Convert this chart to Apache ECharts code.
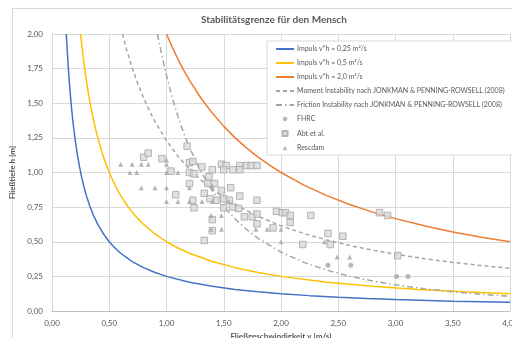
<!DOCTYPE html>
<html>
<head>
<meta charset="utf-8">
<script src="https://cdn.jsdelivr.net/npm/echarts@6/dist/echarts.min.js"></script>
<style>
  html, body { margin: 0; padding: 0; background: #fff; overflow: hidden; }
  #frame { position: absolute; left: 12px; top: 8px; width: 600px; height: 400px;
           border-left: 1px solid #d9d9d9; border-top: 1px solid #d9d9d9; }
  #chart { position: absolute; left: 0; top: 0; width: 512px; height: 338px; }
</style>
</head>
<body>
<div id="frame"></div>
<div id="chart"></div>
<script>
// Impuls-Linien (v*h = konst.)
const impuls025V = [0.125, 0.13, 0.14, 0.15, 0.16, 0.17, 0.18, 0.19, 0.2, 0.22, 0.24, 0.26, 0.28, 0.3, 0.33, 0.36,
  0.4, 0.45, 0.5, 0.55, 0.6, 0.7, 0.8, 0.9, 1.0, 1.2, 1.4, 1.6, 1.8, 2.0, 2.25, 2.5, 2.75, 3.0, 3.5, 4.0];
const impuls025H = [2.0, 1.923, 1.786, 1.667, 1.563, 1.471, 1.389, 1.316, 1.25, 1.136, 1.042, 0.962, 0.893, 0.833, 0.758, 0.694,
  0.625, 0.556, 0.5, 0.455, 0.417, 0.357, 0.313, 0.278, 0.25, 0.208, 0.179, 0.156, 0.139, 0.125, 0.111, 0.1, 0.091, 0.083, 0.071, 0.0625];

const impuls05V = [0.25, 0.26, 0.28, 0.3, 0.32, 0.34, 0.36, 0.38, 0.4, 0.44, 0.48, 0.52, 0.56, 0.6, 0.66, 0.72,
  0.8, 0.9, 1.0, 1.1, 1.2, 1.4, 1.6, 1.8, 2.0, 2.4, 2.8, 3.2, 3.6, 4.0];
const impuls05H = [2.0, 1.923, 1.786, 1.667, 1.563, 1.471, 1.389, 1.316, 1.25, 1.136, 1.042, 0.962, 0.893, 0.833, 0.758, 0.694,
  0.625, 0.556, 0.5, 0.455, 0.417, 0.357, 0.313, 0.278, 0.25, 0.208, 0.179, 0.156, 0.139, 0.125];

const impuls2V = [1.0, 1.05, 1.1, 1.15, 1.2, 1.3, 1.4, 1.5, 1.6, 1.7, 1.8, 1.9, 2.0, 2.2, 2.4, 2.6, 2.8, 3.0, 3.25, 3.5, 3.75, 4.0];
const impuls2H = [2.0, 1.905, 1.818, 1.739, 1.667, 1.538, 1.429, 1.333, 1.25, 1.176, 1.111, 1.053, 1.0, 0.909, 0.833, 0.769, 0.714, 0.667, 0.615, 0.571, 0.533, 0.5];

// Jonkman & Penning-Rowsell (2008)
const momentV = [0.615, 0.65, 0.7, 0.75, 0.8, 0.85, 0.9, 1.0, 1.1, 1.2, 1.3, 1.4, 1.5, 1.6, 1.8, 2.0, 2.2, 2.4, 2.6, 2.8, 3.0, 3.25, 3.5, 3.75, 4.0];
const momentH = [2.0, 1.892, 1.757, 1.64, 1.538, 1.447, 1.367, 1.23, 1.118, 1.025, 0.946, 0.879, 0.82, 0.769, 0.683, 0.615, 0.559, 0.513, 0.473, 0.439, 0.41, 0.378, 0.351, 0.328, 0.308];

const frictionV = [0.92, 0.95, 1.0, 1.05, 1.1, 1.15, 1.2, 1.3, 1.4, 1.5, 1.6, 1.7, 1.8, 2.0, 2.2, 2.4, 2.6, 2.8, 3.0, 3.25, 3.5, 3.75, 4.0];
const frictionH = [2.0, 1.884, 1.70, 1.542, 1.405, 1.285, 1.181, 1.006, 0.867, 0.756, 0.664, 0.588, 0.525, 0.425, 0.351, 0.295, 0.251, 0.217, 0.189, 0.161, 0.139, 0.121, 0.106];

// Versuchsdaten
const fhrcV = [2.41, 2.61, 3.01, 3.11];
const fhrcH = [0.33, 0.33, 0.25, 0.25];

const abtV = [0.80, 0.84, 0.96, 1.04, 1.18, 1.20, 1.23, 1.20, 1.24, 1.31, 1.40, 1.37, 1.48, 1.52, 1.50, 1.58,
  1.64, 1.64, 1.70, 1.74, 1.79, 1.20, 1.36, 1.42, 1.33, 1.48, 1.56, 1.64, 1.23, 1.38, 1.44, 1.50, 1.55,
  1.24, 1.50, 1.58, 1.63, 1.79, 1.40, 1.68, 1.75, 1.79, 1.79, 1.93, 1.40, 1.33, 1.96, 2.01, 2.04, 2.08,
  2.08, 2.26, 2.19, 2.41, 2.43, 2.54, 2.86, 2.93, 3.02, 1.08];
const abtH = [1.11, 1.14, 1.10, 1.01, 1.19, 1.07, 1.08, 1.00, 0.99, 1.04, 1.02, 0.97, 1.06, 1.05, 1.02, 1.02,
  1.05, 1.02, 1.05, 1.05, 1.05, 0.92, 0.92, 0.92, 0.85, 0.87, 0.89, 0.83, 0.80, 0.81, 0.80, 0.81, 0.80,
  0.745, 0.745, 0.75, 0.74, 0.80, 0.66, 0.68, 0.68, 0.70, 0.63, 0.60, 0.58, 0.51, 0.72, 0.71, 0.71, 0.69,
  0.64, 0.69, 0.48, 0.56, 0.48, 0.54, 0.71, 0.69, 0.40, 0.84];

const rescdamV = [0.60, 0.70, 0.78, 0.84, 1.00, 1.00, 0.68, 0.74, 1.00, 1.10, 0.78, 0.90, 1.00, 1.20, 1.40,
  1.00, 1.10, 1.20, 1.31, 1.40, 1.54, 1.39, 1.48, 1.39, 1.48, 1.78, 1.88, 2.00, 2.00, 2.38, 2.49, 2.60];
const rescdamH = [1.06, 1.06, 1.06, 1.06, 1.09, 1.06, 1.00, 1.00, 1.00, 1.00, 0.89, 0.89, 0.89, 0.89, 0.90,
  0.79, 0.79, 0.79, 0.79, 0.79, 0.79, 0.69, 0.69, 0.59, 0.59, 0.59, 0.59, 0.59, 0.50, 0.50, 0.39, 0.39];

const xTicks = { min: 0, max: 4, interval: 0.5 };
const yTicks = { min: 0, max: 2, interval: 0.25 };

function pairs(xs, ys) {
  return xs.map(function (x, i) { return [x, ys[i]]; });
}
function comma(v) {
  return v.toFixed(2).replace('.', ',');
}

const font = 'Lato, "Open Sans", sans-serif';
const textGrey = '#595959';

// kleine Legendensymbole: unsichtbare M-Punkte spannen die 18x9-Box auf
const iconRect = 'path://M0,0M18,9M6.5,2h5v5h-5z';
const iconTri = 'path://M0,0M18,9M9,2.2L11.3,6.8L6.7,6.8z';
const iconDot = 'path://M0,0M18,9M11.3,4.5A2.3,2.3,0,1,1,6.7,4.5A2.3,2.3,0,1,1,11.3,4.5z';
// Linien in der Legende ohne Punkt
const noMarker = { color: 'rgba(0,0,0,0)', borderWidth: 0, opacity: 0 };

const chart = echarts.init(document.getElementById('chart'));

function lineSeries(name, xs, ys, color, type) {
  return {
    name: name,
    type: 'line',
    data: pairs(xs, ys),
    symbol: 'none',
    lineStyle: { color: color, width: 1.5, type: type || 'solid' },
    itemStyle: { color: color },
    emphasis: { disabled: true },
    z: 2
  };
}

chart.setOption({
  animation: false,
  title: {
    text: 'Stabilitätsgrenze für den Mensch',
    left: 196,
    top: 10,
    textStyle: { fontFamily: font, fontSize: 10, fontWeight: 'bold', color: textGrey }
  },
  grid: { left: 52, top: 34, right: 2, bottom: 27, containLabel: false, outerBoundsMode: 'none' },
  legend: {
    orient: 'vertical',
    left: 267,
    top: 41,
    width: 240,
    padding: [3, 8, 2, 8],
    itemGap: 4,
    itemWidth: 18,
    itemHeight: 9,
    backgroundColor: '#fff',
    borderColor: '#d9d9d9',
    borderWidth: 1,
    textStyle: { fontFamily: font, fontSize: 7, color: textGrey, lineHeight: 10, padding: [0, 0, 0, -2] },
    data: [
      { name: 'Impuls v*h = 0,25 m²/s', itemStyle: noMarker },
      { name: 'Impuls v*h = 0,5 m²/s', itemStyle: noMarker },
      { name: 'Impuls v*h = 2,0 m²/s', itemStyle: noMarker },
      { name: 'Moment Instability nach JONKMAN & PENNING-ROWSELL (2008)', itemStyle: noMarker },
      { name: 'Friction Instability nach JONKMAN & PENNING-ROWSELL (2008)', itemStyle: noMarker },
      { name: 'FHRC', icon: iconDot },
      { name: 'Abt et al.', icon: iconRect },
      { name: 'Rescdam', icon: iconTri }
    ]
  },
  xAxis: {
    type: 'value',
    min: xTicks.min, max: xTicks.max, interval: xTicks.interval,
    name: 'Fließgeschwindigkeit v [m/s]',
    nameLocation: 'middle',
    nameGap: 21,
    nameTextStyle: { fontFamily: font, fontSize: 8, fontWeight: 'bold', color: textGrey },
    axisLine: { lineStyle: { color: '#bfbfbf' } },
    axisTick: { show: false },
    splitLine: { lineStyle: { color: '#d9d9d9' } },
    axisLabel: { fontFamily: font, fontSize: 8, color: textGrey, margin: 8, formatter: comma }
  },
  yAxis: {
    type: 'value',
    min: yTicks.min, max: yTicks.max, interval: yTicks.interval,
    name: 'Fließtiefe h [m]',
    nameLocation: 'middle',
    nameRotate: 90,
    nameGap: 26,
    nameTextStyle: { fontFamily: font, fontSize: 8, fontWeight: 'bold', color: textGrey },
    axisLine: { show: true, lineStyle: { color: '#d9d9d9' } },
    axisTick: { show: false },
    splitLine: { lineStyle: { color: '#d9d9d9' } },
    axisLabel: { fontFamily: font, fontSize: 8, color: textGrey, margin: 9, formatter: comma }
  },
  series: [
    lineSeries('Impuls v*h = 0,25 m²/s', impuls025V, impuls025H, '#4472c4'),
    lineSeries('Impuls v*h = 0,5 m²/s', impuls05V, impuls05H, '#ffc000'),
    lineSeries('Impuls v*h = 2,0 m²/s', impuls2V, impuls2H, '#ed7d31'),
    lineSeries('Moment Instability nach JONKMAN & PENNING-ROWSELL (2008)', momentV, momentH, '#a5a5a5', [4, 3]),
    lineSeries('Friction Instability nach JONKMAN & PENNING-ROWSELL (2008)', frictionV, frictionH, '#a5a5a5', [6, 3, 1.5, 3]),
    {
      name: 'FHRC', type: 'scatter', symbol: 'circle', symbolSize: 5,
      data: pairs(fhrcV, fhrcH),
      itemStyle: { color: '#a5a5a5' }, z: 3
    },
    {
      name: 'Abt et al.', type: 'scatter', symbol: 'rect', symbolSize: 6.5,
      data: pairs(abtV, abtH),
      itemStyle: { color: '#d9d9d9', borderColor: '#a5a5a5', borderWidth: 1 }, z: 3
    },
    {
      name: 'Rescdam', type: 'scatter', symbol: 'triangle', symbolSize: 5,
      data: pairs(rescdamV, rescdamH),
      itemStyle: { color: '#a5a5a5' }, z: 3
    }
  ]
});
</script>
</body>
</html>
